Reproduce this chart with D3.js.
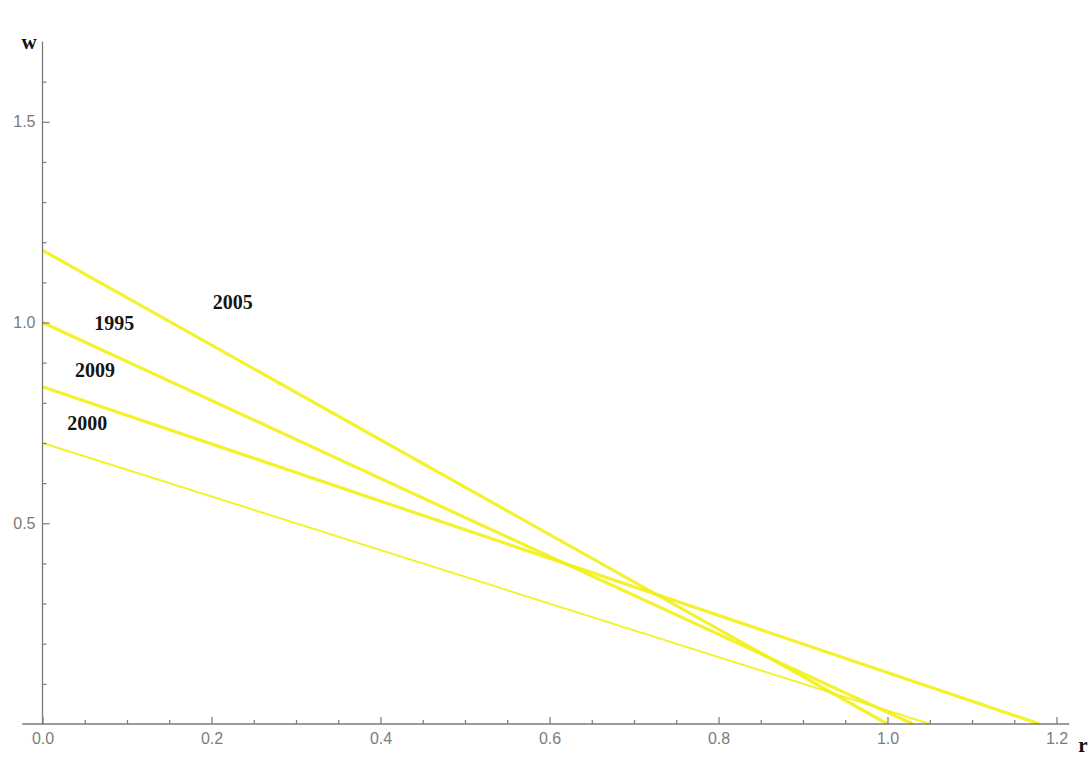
<!DOCTYPE html>
<html>
<head>
<meta charset="utf-8">
<script src="https://cdn.jsdelivr.net/npm/d3@7"></script>
<style>
  html, body { margin: 0; padding: 0; background: #ffffff; }
  svg { display: block; }
</style>
</head>
<body>
<svg id="chart" width="1089" height="758"></svg>
<script>
// Wage–profit frontiers: straight lines from (0, w-intercept) to (r-intercept, 0)
const years       = ["2005", "1995", "2009", "2000"];
const wIntercepts = [1.18, 1.00, 0.84, 0.70];
const rIntercepts = [1.00, 1.03, 1.18, 1.05];
const lineWidths  = [3.2, 3.2, 3.2, 1.9];

// Year annotations, placed in data units
const labelR = [0.225, 0.085, 0.062, 0.053];
const labelW = [1.05, 1.00, 0.883, 0.75];

// Tick values
const xMajorTicks = [0, 0.2, 0.4, 0.6, 0.8, 1.0, 1.2];
const xMinorTicks = [0.05, 0.1, 0.15, 0.25, 0.3, 0.35, 0.45, 0.5, 0.55, 0.65, 0.7, 0.75,
                     0.85, 0.9, 0.95, 1.05, 1.1, 1.15];
const yMajorTicks = [0.5, 1.0, 1.5];
const yMinorTicks = [0.1, 0.2, 0.3, 0.4, 0.6, 0.7, 0.8, 0.9, 1.1, 1.2, 1.3, 1.4, 1.6];

const svg = d3.select("#chart");

const x = d3.scaleLinear().domain([0, 1.2]).range([42.5, 1056.5]);
const y = d3.scaleLinear().domain([0, 1.7]).range([724, 41.5]);

const axisColor = "#7a7a7a";
const lineColor = "#f3ef17";

// Frontier lines
const frontier = years.map((yr, i) => ({
  year: yr,
  pts: [[0, wIntercepts[i]], [rIntercepts[i], 0]],
  width: lineWidths[i]
}));

const lineGen = d3.line().x(d => x(d[0])).y(d => y(d[1]));

svg.append("g").selectAll("path")
  .data(frontier)
  .join("path")
  .attr("d", d => lineGen(d.pts))
  .attr("fill", "none")
  .attr("stroke", lineColor)
  .attr("stroke-width", d => d.width)
  .attr("stroke-opacity", 0.9);

// Axis lines
svg.append("line")
  .attr("x1", x(-0.024)).attr("x2", x(1.215))
  .attr("y1", y(0)).attr("y2", y(0))
  .attr("stroke", axisColor).attr("stroke-width", 1.3);
svg.append("line")
  .attr("x1", x(0)).attr("x2", x(0))
  .attr("y1", y(0)).attr("y2", y(1.7))
  .attr("stroke", axisColor).attr("stroke-width", 1.3);

function styleAxis(g) {
  g.select(".domain").remove();
  g.selectAll(".tick line").attr("stroke", axisColor).attr("stroke-width", 1.2);
  g.selectAll(".tick text")
    .attr("fill", "#7c7c7c")
    .style("font-family", "'Liberation Sans', Arial, sans-serif")
    .style("font-size", "16px");
}

// X axis: major ticks with labels, minor ticks without
svg.append("g")
  .attr("transform", `translate(0,${y(0)})`)
  .call(d3.axisBottom(x).tickValues(xMajorTicks).tickSize(-7).tickPadding(9)
        .tickFormat(d3.format(".1f")))
  .call(styleAxis);
svg.append("g")
  .attr("transform", `translate(0,${y(0)})`)
  .call(d3.axisBottom(x).tickValues(xMinorTicks).tickSize(-4).tickFormat(""))
  .call(styleAxis);

// Y axis
svg.append("g")
  .attr("transform", `translate(${x(0)},0)`)
  .call(d3.axisLeft(y).tickValues(yMajorTicks).tickSize(-7).tickPadding(7)
        .tickFormat(d3.format(".1f")))
  .call(styleAxis);
svg.append("g")
  .attr("transform", `translate(${x(0)},0)`)
  .call(d3.axisLeft(y).tickValues(yMinorTicks).tickSize(-4).tickFormat(""))
  .call(styleAxis);

// Axis names
const serif = "'Liberation Serif', 'Times New Roman', serif";
svg.append("text")
  .attr("x", 29).attr("y", 49)
  .attr("text-anchor", "middle")
  .style("font-family", serif).style("font-weight", "bold").style("font-size", "21px")
  .attr("fill", "#111")
  .text("w");
svg.append("text")
  .attr("x", 1083).attr("y", 752)
  .attr("text-anchor", "middle")
  .style("font-family", serif).style("font-weight", "bold").style("font-size", "21px")
  .attr("fill", "#111")
  .text("r");

// Year labels
svg.append("g").selectAll("text")
  .data(years)
  .join("text")
  .attr("x", (d, i) => x(labelR[i]))
  .attr("y", (d, i) => y(labelW[i]))
  .attr("text-anchor", "middle")
  .attr("dominant-baseline", "central")
  .style("font-family", serif).style("font-weight", "bold").style("font-size", "20px")
  .attr("fill", "#151515")
  .text(d => d);
</script>
</body>
</html>
